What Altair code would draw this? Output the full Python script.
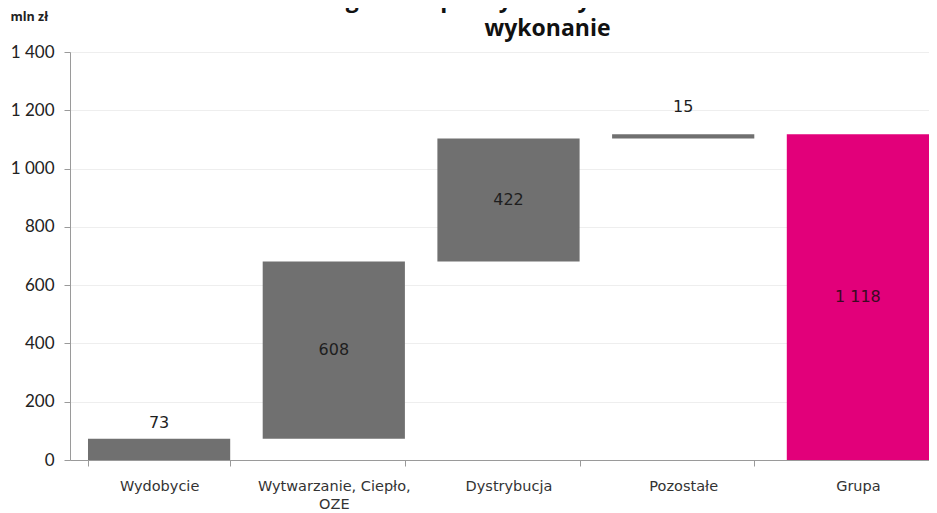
import altair as alt
import pandas as pd

categories = ["Wydobycie", "Wytwarzanie, Ciepło, OZE", "Dystrybucja", "Pozostałe", "Grupa"]
values = [73, 608, 422, 15, 1118]
kinds = ["delta", "delta", "delta", "delta", "total"]
label_pos = ["above", "inside", "inside", "above_far", "inside"]

rows = []
running = 0
for c, v, k, lp in zip(categories, values, kinds, label_pos):
    if k == "total":
        start, end = 0, v
    else:
        start, end = running, running + v
        running = end
    rows.append({"cat": c, "value": v, "kind": k, "start": start, "end": end,
                 "mid": (start + end) / 2, "lp": lp})
df = pd.DataFrame(rows)

GRAY = "#707070"
PINK = "#e2007a"

x = alt.X("cat:N", sort=categories, title=None,
          scale=alt.Scale(paddingInner=0.186, paddingOuter=0.0515, align=1),
          axis=alt.Axis(labelAngle=0, tickBand="extent", domainColor="#9a9a9a",
                        tickColor="#9a9a9a", tickSize=6, labelPadding=13,
                        labelFont="DejaVu Sans", labelFontSize=14.5, labelColor="#333333",
                        labelLineHeight=18, labelBaseline="top",
                        labelExpr="datum.label == 'Wytwarzanie, Ciepło, OZE' ? ['Wytwarzanie, Ciepło,', 'OZE'] : datum.label"))

yscale = alt.Scale(domain=[0, 1400], nice=False)

bars = alt.Chart(df).mark_bar().encode(
    x=x,
    y=alt.Y("start:Q", scale=yscale,
            axis=alt.Axis(values=[0, 200, 400, 600, 800, 1000, 1200, 1400],
                          labelExpr="replace(format(datum.value, ','), ',', ' ')",
                          labelFont="Lato", labelFontSize=17, labelColor="#222222",
                          labelPadding=10, tickSize=6, tickColor="#9a9a9a",
                          domainColor="#9a9a9a", gridColor="#eeeeee",
                          title="mln zł", titleAngle=0, titleAlign="left",
                          titleBaseline="alphabetic", titleX=-60, titleY=-32,
                          titleFont="Open Sans", titleFontSize=12.5,
                          titleFontWeight="bold", titleColor="#222222")),
    y2="end:Q",
    color=alt.condition("datum.kind == 'total'", alt.value(PINK), alt.value(GRAY)),
)

base_text = alt.Chart(df).transform_calculate(
    txt="replace(format(datum.value, ','), ',', ' ')"
)

inside = base_text.transform_filter("datum.lp == 'inside'").mark_text(
    font="DejaVu Sans", fontSize=16, baseline="middle"
).encode(
    x=alt.X("cat:N", sort=categories),
    y=alt.Y("mid:Q", scale=yscale),
    text="txt:N",
    color=alt.condition("datum.kind == 'total'", alt.value("#3a0a22"), alt.value("#1e1e1e")),
)

above = base_text.transform_filter("datum.lp == 'above'").mark_text(
    font="DejaVu Sans", fontSize=16, baseline="middle", dy=-16, color="#1e1e1e"
).encode(
    x=alt.X("cat:N", sort=categories),
    y=alt.Y("end:Q", scale=yscale),
    text="txt:N",
)

above_far = base_text.transform_filter("datum.lp == 'above_far'").mark_text(
    font="DejaVu Sans", fontSize=16, baseline="middle", dy=-27, color="#1e1e1e"
).encode(
    x=alt.X("cat:N", sort=categories),
    y=alt.Y("end:Q", scale=yscale),
    text="txt:N",
)

chart = alt.layer(bars, inside, above, above_far).properties(
    width=859,
    height=408,
    autosize=alt.AutoSizeParams(type="none"),
    padding={"left": 62, "top": 44, "right": 0, "bottom": 53},
    title=alt.TitleParams(
        text=["Program Poprawy Efektywności 2010-2012", "wykonanie"],
        font="Open Sans", fontSize=23, fontWeight="bold", color="#111111",
        lineHeight=29, anchor="middle", dx=48, dy=54, offset=0, baseline="bottom",
    ),
).configure_view(stroke=None).configure(background="white")

chart.save("out.html", embed_options={"renderer": "svg", "actions": False})
